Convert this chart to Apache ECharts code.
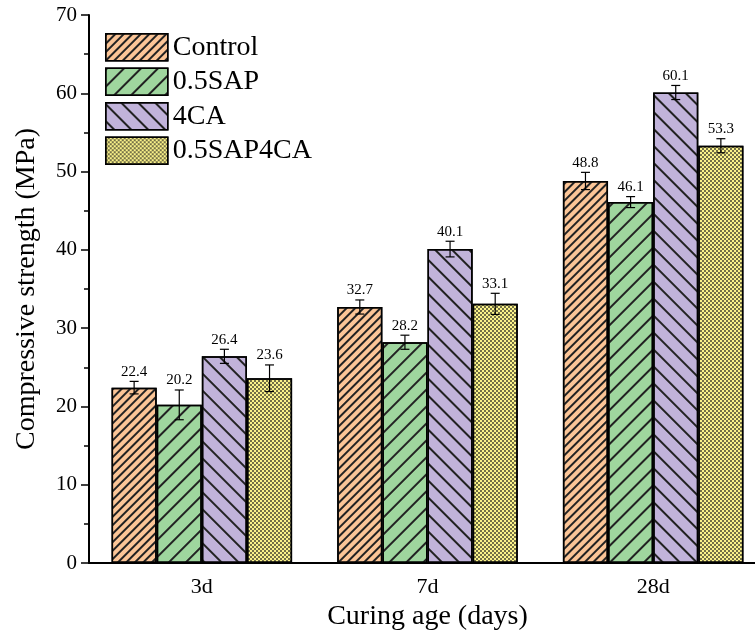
<!DOCTYPE html>
<html>
<head>
<meta charset="utf-8">
<script src="https://cdn.jsdelivr.net/npm/echarts@6/dist/echarts.min.js"></script>
<style>html,body{margin:0;padding:0;background:#fff;}#chart{width:755px;height:630px;}</style>
</head>
<body>
<div id="chart"></div>
<script>
const categories = ['3d', '7d', '28d'];
const seriesNames = ['Control', '0.5SAP', '4CA', '0.5SAP4CA'];
const controlValues = [22.4, 32.7, 48.8];
const sapValues = [20.2, 28.2, 46.1];
const caValues = [26.4, 40.1, 60.1];
const sapCaValues = [23.6, 33.1, 53.3];
const controlErr = [0.8, 0.9, 1.1];
const sapErr = [1.9, 0.9, 0.7];
const caErr = [0.9, 1.0, 0.9];
const sapCaErr = [1.7, 1.35, 0.9];
const yTicks = { min: 0, max: 70, interval: 10 };

const valueSets = [controlValues, sapValues, caValues, sapCaValues];
const errSets = [controlErr, sapErr, caErr, sapCaErr];
const fills = ['#FBC597', '#9FD69E', '#C1B3DA', '#FBF38A'];
const decals = [
  { symbol: 'rect', symbolSize: 1, color: '#222', dashArrayX: [1, 0], dashArrayY: [1.3, 4], rotation: -Math.PI / 4 },
  { symbol: 'rect', symbolSize: 1, color: '#222', dashArrayX: [1, 0], dashArrayY: [1.3, 9.5], rotation: -Math.PI / 4 },
  { symbol: 'rect', symbolSize: 1, color: '#222', dashArrayX: [1, 0], dashArrayY: [1.3, 9.5], rotation: Math.PI / 4 },
  { symbol: 'rect', symbolSize: 0.8, color: '#1a1a1a', dashArrayX: [[2, 2], [0, 2, 2, 0]], dashArrayY: [2, 0] }
];
const FONT = '"Liberation Serif", "Times New Roman", serif';

const series = [];
seriesNames.forEach((name, i) => {
  series.push({
    name: name,
    type: 'bar',
    data: valueSets[i],
    barGap: '0%',
    barCategoryGap: '20%',
    itemStyle: { color: fills[i], borderColor: '#000', borderWidth: 1.5, decal: decals[i] },
    z: 2
  });
});
seriesNames.forEach((name, i) => {
  series.push({
    name: name + '_err',
    type: 'custom',
    data: categories.map((c, k) => [k, valueSets[i][k], errSets[i][k]]),
    z: 5,
    renderItem: function (params, api) {
      const cat = api.value(0), val = api.value(1), err = api.value(2);
      const catW = api.size([1, 0])[0];
      const bw = catW * 0.2;
      const center = api.coord([cat, val]);
      const x = center[0] + (i - 1.5) * bw;
      const yTop = api.coord([cat, val + err])[1];
      const yBot = api.coord([cat, val - err])[1];
      const cap = 4.5;
      const ls = { stroke: '#000', lineWidth: 1.2 };
      return {
        type: 'group',
        children: [
          { type: 'line', shape: { x1: x, y1: yTop, x2: x, y2: yBot }, style: ls },
          { type: 'line', shape: { x1: x - cap, y1: yTop, x2: x + cap, y2: yTop }, style: ls },
          { type: 'line', shape: { x1: x - cap, y1: yBot, x2: x + cap, y2: yBot }, style: ls },
          { type: 'text', style: { text: val.toFixed(1), x: x, y: yTop - 2, align: 'center', verticalAlign: 'bottom', textAlign: 'center', textVerticalAlign: 'bottom', font: '15px ' + FONT, fill: '#000' } }
        ]
      };
    }
  });
});

const chart = echarts.init(document.getElementById('chart'), null, { renderer: 'canvas' });
chart.setOption({
  animation: false,
  backgroundColor: '#fff',
  textStyle: { fontFamily: FONT },
  grid: { left: 89, top: 15, bottom: 67, right: -11, containLabel: false, outerBoundsMode: 'none' },
  legend: {
    data: seriesNames,
    orient: 'vertical',
    left: 105,
    top: 33,
    padding: 0,
    icon: 'rect',
    itemWidth: 62,
    itemHeight: 27,
    itemGap: 6,
    textStyle: { fontSize: 28, fontFamily: FONT, color: '#000', lineHeight: 28 },
    itemStyle: { borderColor: '#000', borderWidth: 1.5 }
  },
  xAxis: [
    {
      type: 'category',
      data: categories,
      position: 'bottom',
      axisLine: { lineStyle: { color: '#000', width: 2 } },
      axisTick: { alignWithLabel: true, length: 9, lineStyle: { color: '#000', width: 1.5 } },
      axisLabel: { fontSize: 22, fontFamily: FONT, color: '#000', margin: 13 },
      name: 'Curing age (days)',
      nameLocation: 'middle',
      nameGap: 36,
      nameTextStyle: { fontSize: 28, fontFamily: FONT, color: '#000' }
    },
    {
      type: 'category',
      data: categories,
      position: 'bottom',
      axisLine: { show: false },
      axisTick: { alignWithLabel: false, interval: 0, length: 5, lineStyle: { color: '#000', width: 1.5 } },
      axisLabel: { show: false }
    }
  ],
  yAxis: {
    type: 'value',
    min: yTicks.min,
    max: yTicks.max,
    interval: yTicks.interval,
    axisLine: { show: true, lineStyle: { color: '#000', width: 2 } },
    axisTick: { show: true, length: 8, lineStyle: { color: '#000', width: 1.5 } },
    minorTick: { show: true, splitNumber: 2, length: 5, lineStyle: { color: '#000', width: 1.5 } },
    splitLine: { show: false },
    axisLabel: { fontSize: 21, fontFamily: FONT, color: '#000', margin: 12 },
    name: 'Compressive strength (MPa)',
    nameLocation: 'middle',
    nameRotate: 90,
    nameGap: 48,
    nameTextStyle: { fontSize: 28, fontFamily: FONT, color: '#000' }
  },
  series: series
});
</script>
</body>
</html>
